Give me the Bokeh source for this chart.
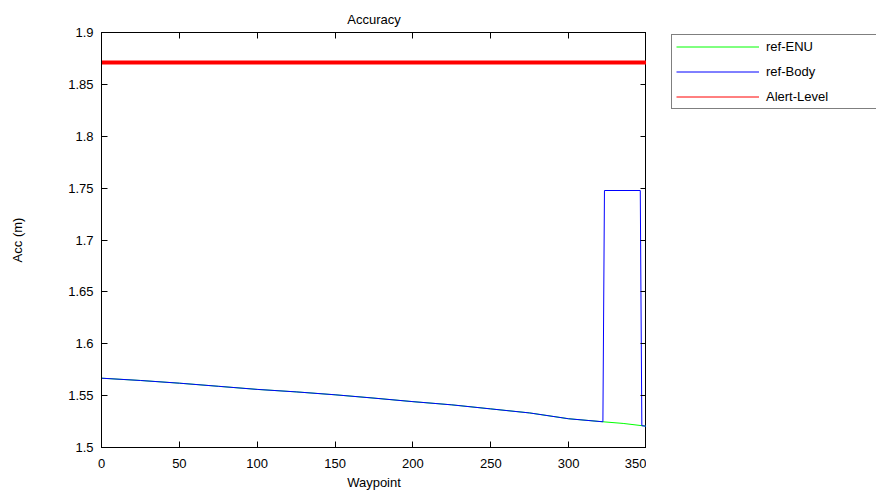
from bokeh.plotting import figure
from bokeh.layouts import row
from bokeh.models import Range1d, LinearAxis, FixedTicker, Legend, LegendItem, CustomJSTickFormatter
from bokeh.embed import file_html
from bokeh.resources import INLINE

# ---- data ----
waypoint_enu = [0, 25, 50, 75, 100, 125, 150, 175, 200, 225, 250, 275, 300, 322, 335, 350]
acc_enu = [1.5668, 1.5646, 1.5620, 1.5590, 1.5560, 1.5536, 1.5508, 1.5476, 1.5442,
           1.5411, 1.5372, 1.5333, 1.5277, 1.5248, 1.5232, 1.5205]

waypoint_body = [0, 25, 50, 75, 100, 125, 150, 175, 200, 225, 250, 275, 300, 322,
                 323, 346, 347, 350]
acc_body = [1.5668, 1.5646, 1.5620, 1.5590, 1.5560, 1.5536, 1.5508, 1.5476, 1.5442,
            1.5411, 1.5372, 1.5333, 1.5277, 1.5248, 1.7477, 1.7477, 1.5210, 1.5205]

waypoint_alert = [0, 350]
acc_alert = [1.871, 1.871]

x_ticks = [0, 50, 100, 150, 200, 250, 300, 350]
y_ticks = [1.5, 1.55, 1.6, 1.65, 1.7, 1.75, 1.8, 1.85, 1.9]
y_tick_labels = ["1.5", "1.55", "1.6", "1.65", "1.7", "1.75", "1.8", "1.85", "1.9"]

series_names = ["ref-ENU", "ref-Body", "Alert-Level"]
series_colors = ["#00ff00", "#0000ff", "#ff0000"]

FONT = "Liberation Sans"

# ---------------- main plot ----------------
p = figure(frame_width=545, frame_height=415, x_range=Range1d(0, 350), y_range=Range1d(1.5, 1.9),
           title="Accuracy", toolbar_location=None, output_backend="svg",
           min_border_left=101, min_border_right=0, min_border_top=32, min_border_bottom=45)

p.title.align = "center"
p.title.vertical_align = "top"
p.title.text_font = FONT
p.title.text_font_size = "13px"
p.title.text_font_style = "normal"
p.title.text_color = "black"
p.title.standoff = 7

p.xgrid.visible = False
p.ygrid.visible = False
p.outline_line_color = "black"
p.outline_line_width = 1
p.background_fill_color = "white"
p.border_fill_color = "white"

p.line(waypoint_enu, acc_enu, line_color=series_colors[0], line_width=1)
p.line(waypoint_body, acc_body, line_color=series_colors[1], line_width=1)
p.line(waypoint_alert, acc_alert, line_color=series_colors[2], line_width=4)

xa = p.xaxis[0]
xa.ticker = FixedTicker(ticks=x_ticks)
xa.axis_label = "Waypoint"
ya = p.yaxis[0]
ya.ticker = FixedTicker(ticks=y_ticks)
ya.major_label_overrides = {t: s for t, s in zip(y_ticks, y_tick_labels)}
ya.axis_label = "Acc (m)"

for ax in (xa, ya):
    ax.major_tick_in = 6
    ax.major_tick_out = 0
    ax.minor_tick_line_color = None
    ax.axis_line_color = "black"
    ax.major_tick_line_color = "black"
    ax.major_label_text_font = FONT
    ax.major_label_text_font_size = "13px"
    ax.major_label_text_color = "black"
    ax.axis_label_text_font = FONT
    ax.axis_label_text_font_size = "13px"
    ax.axis_label_text_font_style = "normal"
    ax.axis_label_text_color = "black"
xa.major_label_standoff = 11
xa.axis_label_standoff = 4
ya.major_label_standoff = 8
ya.axis_label_standoff = 40

top = LinearAxis(ticker=FixedTicker(ticks=x_ticks), formatter=CustomJSTickFormatter(code="return ''"),
                 major_tick_in=6, major_tick_out=0, minor_tick_line_color=None,
                 major_label_standoff=0, axis_line_color="black")
right = LinearAxis(ticker=FixedTicker(ticks=y_ticks), formatter=CustomJSTickFormatter(code="return ''"),
                   major_tick_in=6, major_tick_out=0, minor_tick_line_color=None,
                   major_label_standoff=0, axis_line_color="black")
p.add_layout(top, "above")
p.add_layout(right, "right")

# ---------------- legend panel ----------------
lp = figure(width=230, height=492, x_range=Range1d(0, 1), y_range=Range1d(0, 1),
            toolbar_location=None, output_backend="svg",
            x_axis_location=None, y_axis_location=None, min_border=0)
lp.xgrid.visible = False
lp.ygrid.visible = False
lp.outline_line_color = None
lp.background_fill_color = "white"
lp.border_fill_color = "white"

# same series, outside this panel's ranges: only their legend keys are visible
l_enu = lp.line(waypoint_enu, acc_enu, line_color=series_colors[0], line_width=1)
l_body = lp.line(waypoint_body, acc_body, line_color=series_colors[1], line_width=1)
l_alert = lp.line(waypoint_alert, acc_alert, line_color=series_colors[2], line_width=1)

legend = Legend(items=[LegendItem(label=series_names[0], renderers=[l_enu]),
                       LegendItem(label=series_names[1], renderers=[l_body]),
                       LegendItem(label=series_names[2], renderers=[l_alert])],
                location=(25, 338))
legend.label_text_font = FONT
legend.label_text_font_size = "13px"
legend.label_text_color = "black"
legend.padding = 4
legend.spacing = 10
legend.glyph_width = 83
legend.glyph_height = 15
legend.label_height = 15
legend.label_width = 106
legend.label_standoff = 7
legend.border_line_color = "black"
legend.border_line_width = 1
legend.background_fill_color = "white"
legend.background_fill_alpha = 1
legend.margin = 0
lp.add_layout(legend, "center")

layout = row(p, lp, spacing=0)

open("out.html", "w").write(file_html(layout, INLINE))
